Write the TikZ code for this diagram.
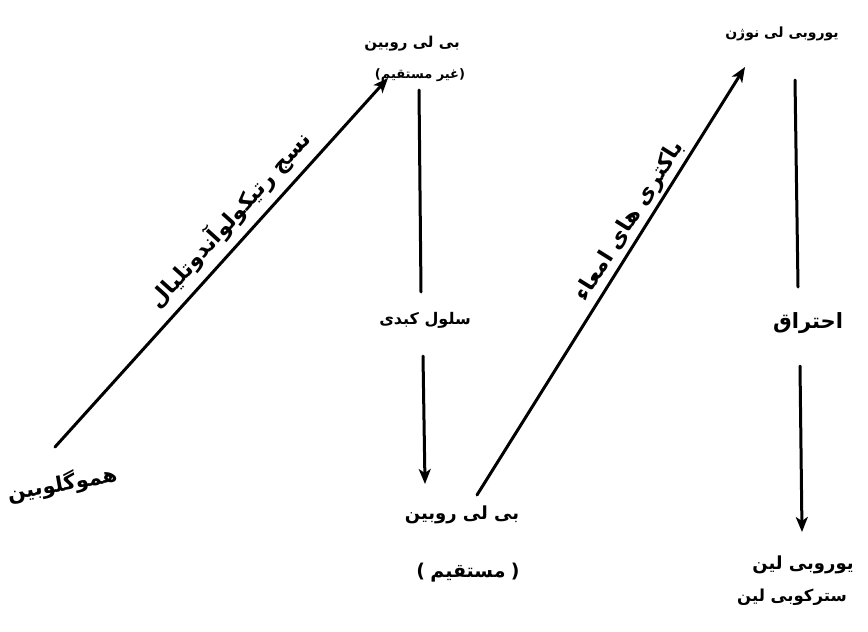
\documentclass[tikz,border=0pt]{standalone}
\usepackage{fontspec}
\newfontfamily\fa[Script=Arabic]{DejaVu Sans}
\TeXXeTstate=1
\usetikzlibrary{arrows.meta}
\tikzset{
  fatxt/.style={font=\fa\bfseries\fontsize{#1}{#1}\selectfont, inner sep=0pt},
  ln/.style={line width=3pt, line cap=round},
  arr/.style={ln, -{Stealth[length=15pt,width=12pt,inset=4pt]}},
}
\begin{document}
\begin{tikzpicture}[x=1pt,y=-1pt]
\useasboundingbox (0,0) rectangle (868,632);
% nodes
\node[fatxt=21, rotate=10] (hb) at (62,484) {\beginR هموگلوبین\endR};
\node[fatxt=15] (bi1) at (412,44) {\beginR بی لی روبین\endR};
\node[fatxt=13] (bi1b) at (420,75) {\beginR (غیر مستقیم)\endR};
\node[fatxt=16] (kab) at (425,320) {\beginR سلول کبدی\endR};
\node[fatxt=18] (bi2) at (462,515) {\beginR بی لی روبین\endR};
\node[fatxt=19] (bi2b) at (468,573) {\beginR (\;مستقیم\;)\endR};
\node[fatxt=14] (ubg) at (782,34) {\beginR یوروبی لی نوژن\endR};
\node[fatxt=21] (eht) at (808,323) {\beginR احتراق\endR};
\node[fatxt=18] (ub) at (803,565) {\beginR یوروبی لین\endR};
\node[fatxt=16.5] (sb) at (792,597) {\beginR سترکوبی لین\endR};
% connector ends
\coordinate (a1s) at (55,447);  \coordinate (a1e) at (388,78);
\coordinate (a2s) at (477,495); \coordinate (a2e) at (745,67);
\coordinate (m1s) at (419,90);  \coordinate (m1e) at (421,292);
\coordinate (m2s) at (423,356); \coordinate (m2e) at (425,484);
\coordinate (r1s) at (795,80);  \coordinate (r1e) at (798,287);
\coordinate (r2s) at (800,366); \coordinate (r2e) at (802,532);
% connectors
\draw[arr] (a1s) -- node[sloped, pos=0.575, anchor=south, fatxt=22, inner sep=8pt] (l1) {\beginR نسج رتیکولوآندوتلیال\endR} (a1e);
\draw[arr] (a2s) -- node[sloped, pos=0.62, anchor=south, fatxt=22, inner sep=3pt] (l2) {\beginR باکتری های امعاء\endR} (a2e);
\draw[ln] (m1s) -- (m1e);
\draw[arr] (m2s) -- (m2e);
\draw[ln] (r1s) -- (r1e);
\draw[arr] (r2s) -- (r2e);
\end{tikzpicture}
\end{document}
